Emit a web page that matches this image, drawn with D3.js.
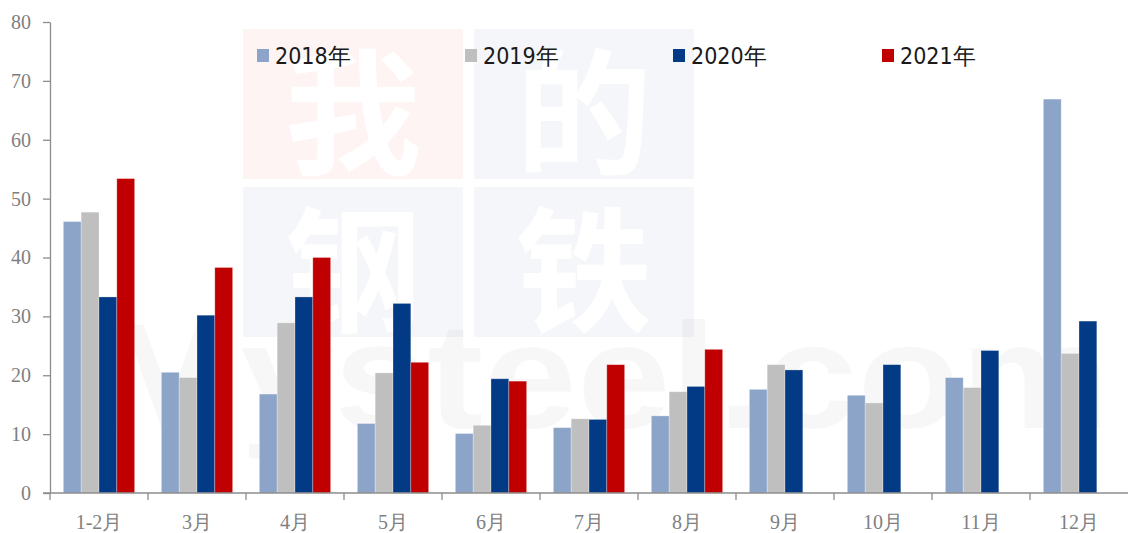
<!DOCTYPE html>
<html>
<head>
<meta charset="utf-8">
<script src="https://cdn.jsdelivr.net/npm/d3@7"></script>
<style>
    html, body { margin: 0; padding: 0; background: #ffffff; }
    svg { display: block; }
</style>
</head>
<body>
<div id="chart"></div>
<script>
// categories and series
const months = ["1-2月", "3月", "4月", "5月", "6月", "7月", "8月", "9月", "10月", "11月", "12月"];
const seriesNames = ["2018年", "2019年", "2020年", "2021年"];
const seriesColors = ["#8BA4C8", "#BFBFBF", "#033A85", "#C00000"];

const values2018 = [46.1, 20.5, 16.8, 11.8, 10.1, 11.1, 13.1, 17.6, 16.6, 19.6, 66.9];
const values2019 = [47.7, 19.6, 28.9, 20.4, 11.5, 12.6, 17.2, 21.8, 15.3, 17.9, 23.7];
const values2020 = [33.3, 30.2, 33.3, 32.2, 19.4, 12.5, 18.1, 20.9, 21.8, 24.2, 29.2];
const values2021 = [53.4, 38.3, 40.0, 22.2, 19.0, 21.8, 24.4, null, null, null, null];

const yTicks = [0, 10, 20, 30, 40, 50, 60, 70, 80];

const allValues = [values2018, values2019, values2020, values2021];

const width = 1128, height = 533;
const margin = { top: 22, right: 0, bottom: 40, left: 50 };

const svg = d3.select("#chart").append("svg")
    .attr("width", width)
    .attr("height", height);

// Watermark (faint background logo)
const wm = svg.append("g").attr("class", "watermark");
const boxes = [
    { x: 243, y: 29, ch: "我", fill: "#FEF4F4" },
    { x: 474, y: 29, ch: "的", fill: "#F5F6FA" },
    { x: 243, y: 187, ch: "钢", fill: "#F5F6FA" },
    { x: 474, y: 187, ch: "铁", fill: "#F5F6FA" }
];
boxes.forEach(b => {
    wm.append("rect")
        .attr("x", b.x).attr("y", b.y)
        .attr("width", 220).attr("height", 150)
        .attr("fill", b.fill);
    wm.append("text")
        .attr("x", b.x + 110).attr("y", b.y + 75)
        .attr("text-anchor", "middle")
        .attr("dominant-baseline", "central")
        .attr("font-family", "'Noto Sans CJK SC', sans-serif")
        .attr("font-weight", "bold")
        .attr("font-size", 136)
        .attr("fill", "#ffffff")
        .text(b.ch);
});
wm.append("text")
    .attr("x", 100).attr("y", 428)
    .attr("textLength", 1010)
    .attr("lengthAdjust", "spacingAndGlyphs")
    .attr("font-family", "'Liberation Sans', Arial, sans-serif")
    .attr("font-weight", "bold")
    .attr("font-size", 150)
    .attr("fill", "#000")
    .attr("fill-opacity", 0.03)
    .text("Mysteel.com");

// Scales
const x0 = d3.scaleBand()
    .domain(months)
    .range([margin.left, width - margin.right])
    .padding(0);

const x1 = d3.scaleBand()
    .domain(seriesNames)
    .range([0, x0.bandwidth()])
    .paddingInner(0)
    .paddingOuter(0.75);

const y = d3.scaleLinear()
    .domain([0, 80])
    .range([height - margin.bottom, margin.top]);

// Bars
const rows = months.map((m, i) => ({
    month: m,
    vals: seriesNames.map((s, j) => ({ key: s, value: allValues[j][i], color: seriesColors[j] }))
}));

const groups = svg.append("g").attr("class", "bars")
    .selectAll("g")
    .data(rows)
    .join("g")
    .attr("transform", d => `translate(${x0(d.month)},0)`);

groups.selectAll("rect")
    .data(d => d.vals.filter(v => v.value != null))
    .join("rect")
    .attr("x", d => x1(d.key))
    .attr("y", d => y(d.value))
    .attr("width", x1.bandwidth())
    .attr("height", d => y(0) - y(d.value))
    .attr("fill", d => d.color)
    .attr("stroke", "#ffffff")
    .attr("stroke-opacity", 0.35)
    .attr("stroke-width", 0.8);

// Y axis
const axisColor = "#8c8c8c";
const yAxis = svg.append("g")
    .attr("transform", `translate(${margin.left},0)`)
    .call(d3.axisLeft(y).tickValues(yTicks).tickSize(7).tickPadding(12).tickSizeOuter(0));
yAxis.select(".domain").attr("stroke", axisColor).attr("stroke-width", 1.3);
yAxis.selectAll(".tick line").attr("stroke", axisColor).attr("stroke-width", 1.3);
yAxis.selectAll(".tick text")
    .attr("font-family", "'Liberation Serif', 'Times New Roman', serif")
    .attr("font-size", 20)
    .attr("fill", "#7f7f7f");

// X axis: line plus ticks at category boundaries
const xg = svg.append("g").attr("class", "x-axis");
xg.append("line")
    .attr("x1", margin.left - 7).attr("x2", width)
    .attr("y1", y(0)).attr("y2", y(0))
    .attr("stroke", axisColor).attr("stroke-width", 1.3);
xg.selectAll("line.tick")
    .data(months)
    .join("line")
    .attr("class", "tick")
    .attr("x1", d => x0(d)).attr("x2", d => x0(d))
    .attr("y1", y(0)).attr("y2", y(0) + 7)
    .attr("stroke", axisColor).attr("stroke-width", 1.3);
xg.selectAll("text")
    .data(months)
    .join("text")
    .attr("x", d => x0(d) + x0.bandwidth() / 2)
    .attr("y", y(0) + 36)
    .attr("text-anchor", "middle")
    .attr("font-family", "'Liberation Serif', 'Times New Roman', serif")
    .attr("font-size", 20)
    .attr("fill", "#7f7f7f")
    .text(d => d);

// Legend
const legendX = [257, 465, 673, 882];
const legend = svg.append("g").attr("class", "legend")
    .selectAll("g")
    .data(seriesNames)
    .join("g")
    .attr("transform", (d, i) => `translate(${legendX[i]},49)`);
legend.append("rect")
    .attr("width", 12).attr("height", 13)
    .attr("fill", (d, i) => seriesColors[i]);
legend.append("text")
    .attr("x", 18).attr("y", 15)
    .attr("font-family", "'Liberation Sans Narrow', 'DejaVu Sans Condensed', sans-serif")
    .attr("font-size", 23)
    .attr("fill", "#1a1a1a")
    .text(d => d);
</script>
</body>
</html>
